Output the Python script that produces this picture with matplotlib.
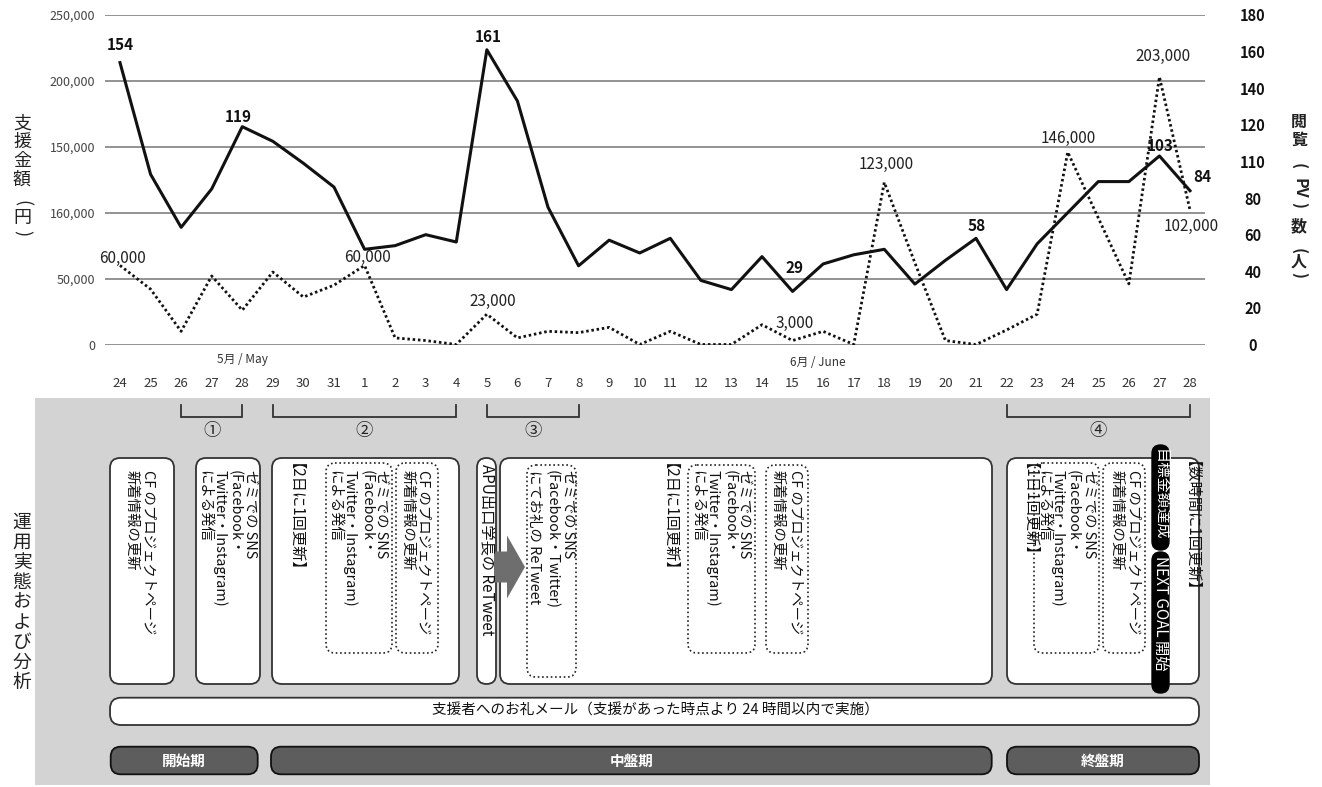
import numpy as np
import matplotlib
matplotlib.use("Agg")
import matplotlib.pyplot as plt
from matplotlib.patches import FancyBboxPatch, Rectangle, FancyArrow
from matplotlib import transforms

plt.rcParams['font.family'] = ['Noto Sans CJK JP', 'DejaVu Sans']

# データ（5/24〜6/28）
dates = [24, 25, 26, 27, 28, 29, 30, 31] + list(range(1, 29))
pv = [154, 93, 64, 85, 119, 111, 99, 86,
      52, 54, 60, 56, 161, 133, 75, 43, 57, 50, 58, 35, 30, 48, 29, 44,
      49, 52, 33, 46, 58, 30, 55, 72, 89, 89, 103, 84]
amount = [60000, 42000, 10000, 52000, 26000, 55000, 36000, 45000,
          60000, 5000, 3000, 0, 23000, 5000, 10000, 9000, 13000, 0, 10000, 0,
          0, 15000, 3000, 10000, 0, 123000, 62000, 3000, 0, 11000, 23000,
          146000, 96000, 46000, 203000, 102000]

amount_ticks = [0, 50000, 100000, 150000, 200000, 250000]
amount_ticklabels = ['0', '50,000', '160,000', '150,000', '200,000', '250,000']
pv_ticks = [0, 20, 40, 60, 80, 100, 120, 140, 160, 180]
pv_ticklabels = ['0', '20', '40', '60', '80', '110', '120', '140', '160', '180']

pv_labeled = [0, 4, 12, 22, 28, 34, 35]
amount_labeled = [0, 8, 12, 22, 25, 31, 34, 35]

# ラベル位置の微調整（px）
pv_offsets = [(0, 18), (-4, 10), (1, 13), (2, 23), (1, 12), (1, 10), (12, 14)]
amount_offsets = [(3, 7), (3, 8), (6, 13), (2, 17), (2, 18), (1, 14), (4, 20), (1, -16)]

W, H = 1322, 787
fig = plt.figure(figsize=(W / 100, H / 100), dpi=100)
bg = fig.add_axes([0, 0, 1, 1])
bg.set_xlim(0, W)
bg.set_ylim(H, 0)
bg.axis('off')

# ---- 上のグラフ ----
ax = fig.add_axes([104.7 / W, (H - 344.5) / H, 1100.6 / W, 329.5 / H])
ax.patch.set_alpha(0)
x = np.arange(len(dates))
ax.plot(x, amount, color='#111111', lw=2.0, linestyle=(0, (0.9, 1.0)))
ax.set_xlim(-0.5, len(dates) - 0.5)
ax.set_ylim(0, 250000)
ax.set_yticks(amount_ticks)
ax.set_yticklabels(amount_ticklabels)
ax.set_xticks(x)
ax.set_xticklabels([str(d) for d in dates])
ax.tick_params(axis='x', length=0, pad=23.5, labelsize=9.5, labelcolor='#333333')
ax.tick_params(axis='y', length=0, pad=7, labelsize=9, labelcolor='#444444')
ax.grid(axis='y', color='#8a8a8a', lw=1.3)
ax.set_axisbelow(True)
for s in ax.spines.values():
    s.set_visible(False)

ax2 = ax.twinx()
ax2.plot(x, pv, color='#111111', lw=2.2)
ax2.set_ylim(0, 180)
ax2.set_yticks(pv_ticks)
ax2.set_yticklabels(pv_ticklabels, ha='center', fontweight='bold')
ax2.tick_params(axis='y', length=0, pad=34.3, labelsize=10.5, labelcolor='#111111')
for s in ax2.spines.values():
    s.set_visible(False)

for i, (dx, dy) in zip(pv_labeled, pv_offsets):
    ax2.annotate(str(pv[i]), (x[i], pv[i]), xytext=(dx * 0.72, dy * 0.72),
                 textcoords='offset points', ha='center', va='center',
                 fontsize=11, fontweight='bold', color='#111111', annotation_clip=False)
for i, (dx, dy) in zip(amount_labeled, amount_offsets):
    ax.annotate(f'{amount[i]:,}', (x[i], amount[i]), xytext=(dx * 0.72, dy * 0.72),
                textcoords='offset points', ha='center', va='center',
                fontsize=11, color='#222222', annotation_clip=False)

bg.text(242, 360, '5月 / May', ha='center', va='center', fontsize=8.5, color='#333333')
bg.text(818, 363, '6月 / June', ha='center', va='center', fontsize=8.5, color='#333333')


def upright(xc, items, size, weight='normal'):
    for yc, s, rot in items:
        bg.text(xc, yc, s, rotation=rot, ha='center', va='center', fontsize=size,
                fontweight=weight, color='#222222')


upright(22, [(124, '支', 0), (142, '援', 0), (161, '金', 0), (180, '額', 0),
             (203, '(', -90), (218, '円', 0), (233, ')', -90)], 13)
upright(1299, [(122, '閲', 0), (140, '覧', 0), (166, '(', -90), (188, 'PV', -90),
               (205, ')', -90), (226, '数', 0), (251, '(', -90), (262, '人', 0),
               (275, ')', -90)], 11.5, 'bold')
upright(22, [(522 + i * 20.1, c, 0) for i, c in enumerate('運用実態および分析')], 13.5)

# ---- 下のパネル ----
bg.add_patch(Rectangle((35, 398), 1175, 387, fc='#d3d3d3', ec='none'))

trans = transforms.blended_transform_factory(ax.transData, bg.transData)
brackets = [(2, 4, '①'), (5, 11, '②'), (12, 15, '③'), (29, 35, '④')]
for i0, i1, lab in brackets:
    bg.plot([i0, i0, i1, i1], [405, 417, 417, 405], transform=trans,
            color='#333333', lw=1.3, solid_joinstyle='miter')
    bg.text((i0 + i1) / 2, 431, lab, transform=trans, ha='center', va='center',
            fontsize=12.5, color='#222222')


def rbox(x0, y0, x1, y1, r=10, fc='white', ec='#333333', lw=1.3, ls='-'):
    bg.add_patch(FancyBboxPatch((x0, y0), x1 - x0, y1 - y0,
                                boxstyle=f'round,pad=0,rounding_size={r}',
                                fc=fc, ec=ec, lw=lw, ls=ls))


def dbox(x0, y0, x1, y1):
    rbox(x0, y0, x1, y1, r=9, fc='none', ec='#222222', lw=1.2, ls=(0, (1, 1.6)))


def cols(xs, lines, top=470, size=10.4, color='#111111', weight='normal'):
    for xc, s in zip(xs, lines):
        bg.text(xc, top, s, rotation=-90, ha='center', va='top', fontsize=size,
                color=color, fontweight=weight)


cf_lines = ['CF のプロジェクトページ', '新着情報の更新']
sns_lines = ['ゼミでの SNS', '(Facebook・', 'Twitter・Instagram)', 'による発信']
rt_lines = ['ゼミでの SNS', '(Facebook・Twitter)', 'にてお礼の ReTweet']

# 開始期
rbox(110, 458, 174, 684)
cols([148, 132], cf_lines)
rbox(196, 458, 260, 684)
cols([250, 235, 220, 204], sns_lines)

# 中盤期（前半）
rbox(272, 458, 459, 684)
cols([287], ['【2日に1回更新】'], top=463, size=11)
dbox(326, 463, 392, 653)
cols([381.7, 366.7, 350, 334.3], sns_lines)
dbox(396, 463, 438, 653)
cols([422.7, 407.3], cf_lines)

rbox(477, 458, 496, 684, r=9.5)
cols([487], ['APU出口学長の ReTweet'], top=464, size=11)

# 中盤期（後半）
rbox(500, 458, 992, 684)
dbox(527, 465, 576, 677)
cols([568.3, 551.7, 534], rt_lines)
cols([661.7], ['【2日に1回更新】'], top=463, size=11)
dbox(688, 465, 755, 653)
cols([744, 729.3, 712.7, 697.3], sns_lines)
dbox(766, 465, 808, 653)
cols([795, 777.3], cf_lines)

bg.add_patch(FancyArrow(494, 567, 31, 0, width=31, head_width=63, head_length=18,
                        length_includes_head=True, fc='#6e6e6e', ec='none'))

# 終盤期
rbox(1007, 458, 1199, 684)
cols([1021.7], ['【1日1回更新】'], top=463, size=11)
dbox(1034, 463, 1099, 653)
cols([1089.3, 1072.7, 1058.3, 1043.3], sns_lines)
dbox(1103, 463, 1145, 653)
cols([1133.3, 1116.7], cf_lines)
rbox(1152, 445, 1169, 550, r=8.5, fc='black', ec='black', lw=1)
rbox(1152, 552, 1169, 693, r=8.5, fc='black', ec='black', lw=1)
cols([1160.5], ['目標金額達成'], top=449, size=11, color='white')
cols([1160.5], ['NEXT GOAL 開始'], top=556, size=11, color='white')
cols([1183.3], ['【数時間に1回更新】'], top=461, size=11)

# お礼メール
rbox(110, 697.7, 1199, 725, r=11)
bg.text(655, 711, '支援者へのお礼メール（支援があった時点より 24 時間以内で実施）',
        ha='center', va='center', fontsize=10.5, color='#111111')

# フェーズ
phases = [(110.7, 257.7, '開始期'), (271, 991.7, '中盤期'), (1007, 1199, '終盤期')]
for x0, x1, lab in phases:
    rbox(x0, 746.7, x1, 774.3, r=10, fc='#5d5d5d', ec='#111111', lw=1.3)
    bg.text((x0 + x1) / 2, 760.5, lab, ha='center', va='center', fontsize=10.5,
            fontweight='bold', color='white')

fig.savefig('out.png', dpi=100)
